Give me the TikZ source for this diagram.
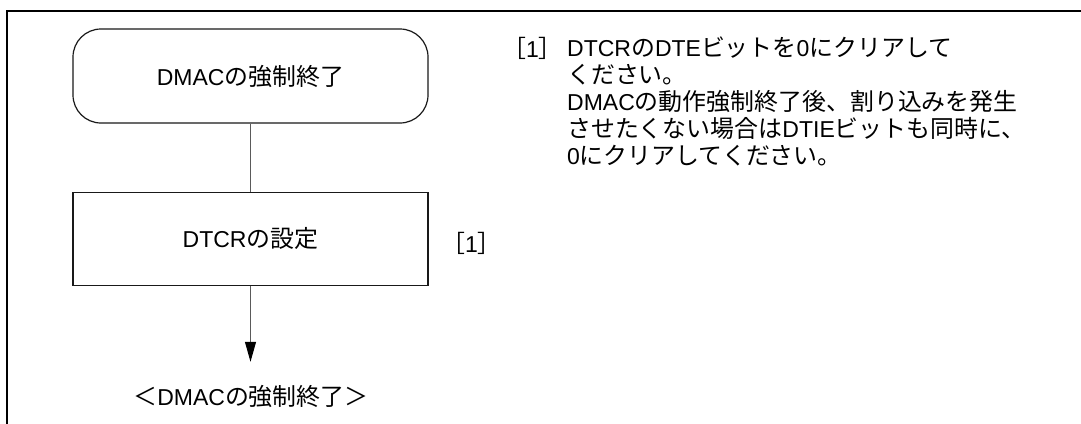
\documentclass[tikz,border=0pt]{standalone}
\usepackage{fontspec}
\setmainfont{Liberation Sans}
\newfontfamily\cjk[Scale=1.04]{Noto Sans CJK JP}
\newcommand{\jp}[1]{{\cjk #1}}
\lineskiplimit=-20pt
\definecolor{linegray}{RGB}{90, 90, 90}
\usetikzlibrary{arrows.meta, positioning}
\tikzset{
	terminal/.style={rectangle, rounded corners=28pt, draw=black!90, line width=1.2pt, minimum width=355pt, minimum height=94pt, align=center, font=\fontsize{23}{24}\selectfont},
	flow/.style={rectangle, draw=black!90, line width=1.2pt, minimum width=355pt, minimum height=93pt, align=center, font=\fontsize{23}{24}\selectfont},
	plain/.style={inner sep=0pt, align=center, font=\fontsize{23}{24}\selectfont},
	note/.style={inner sep=0pt, align=left, font=\fontsize{23}{27}\selectfont},
	frameline/.style={line width=2.2pt, draw=black},
	link/.style={line width=1pt, draw=linegray},
	arrow/.style={-{Triangle[length=20pt, width=11pt, black]}, line width=1pt, draw=linegray},
}
\begin{document}
\begin{tikzpicture}[x=1pt, y=-1pt, node distance=68pt]
		\useasboundingbox (0,0) rectangle (1081,423);
		\draw[frameline] (1082,11) -| (7,424);
		\node[terminal] (stop) at (250.5,76) {DMAC\jp{の強制終了}};
		\node[flow, below=of stop] (dtcr) {DTCR\jp{の設定}};
		\coordinate[below=76pt of dtcr] (tip);
		\node[plain] (fin) at (251,396) {\jp{＜}DMAC\jp{の強制終了＞}};
		\node[plain, anchor=west] (mark) at (441,243) {\jp{［}1\jp{］}};
		\node[note, anchor=north west] (desc) at (567,37) {DTCR\jp{の}DTE\jp{ビットを}0\jp{にクリアして}\\
			\jp{ください。}\\
			DMAC\jp{の動作強制終了後、割り込みを発生}\\
			\jp{させたくない場合は}DTIE\jp{ビットも同時に、}\\
			0\jp{にクリアしてください。}};
		\node[note, anchor=north east] (ref) at ([xshift=-4pt]desc.north west) {\jp{［}1\jp{］}};
		\draw[link] (stop) -- (dtcr);
		\draw[arrow] (dtcr) -- (tip);
	\end{tikzpicture}
\end{document}
